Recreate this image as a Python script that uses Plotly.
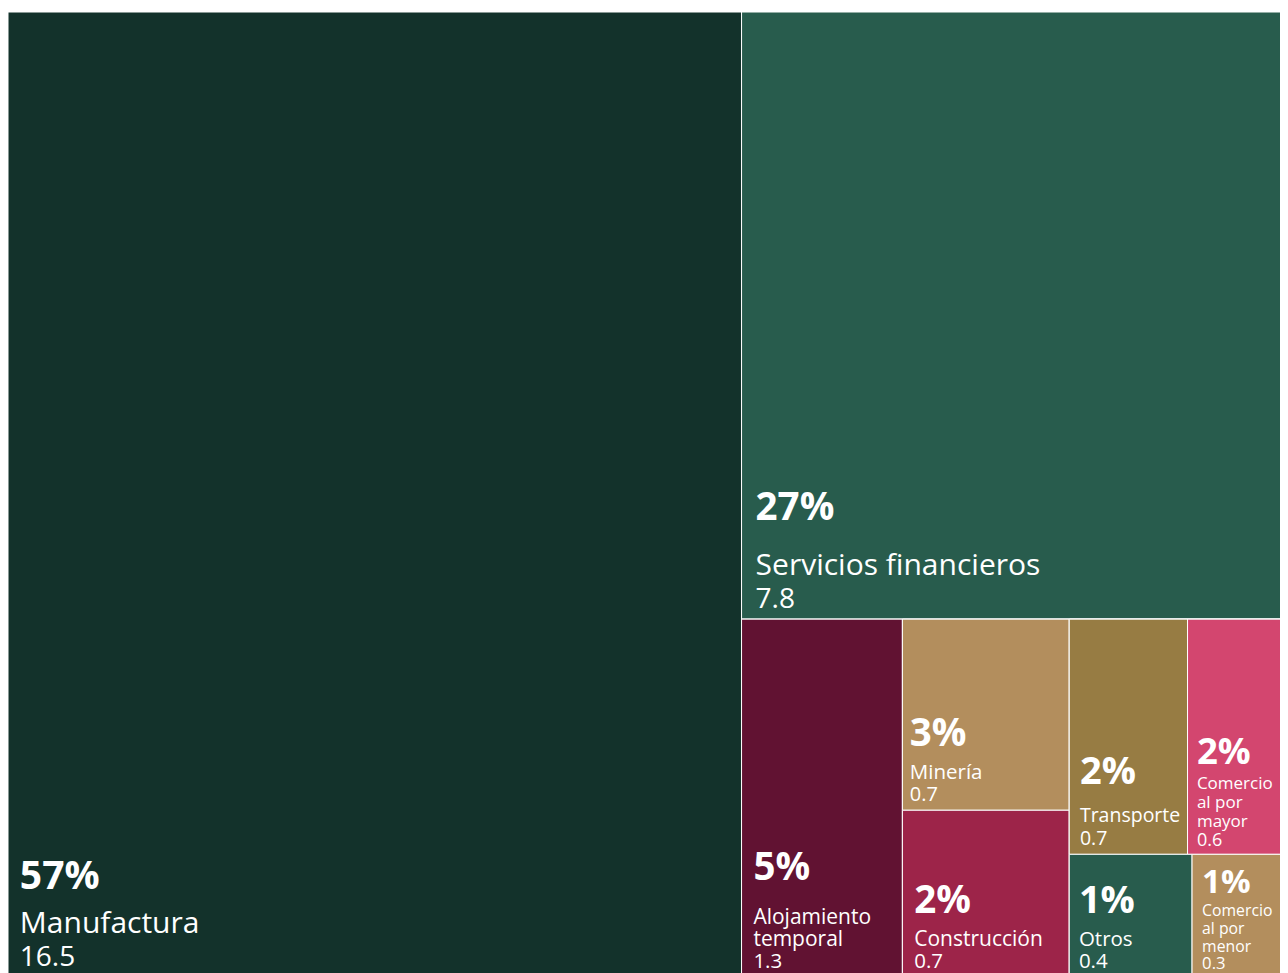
import plotly.graph_objects as go

# ---------------- data ----------------
sectors = ["Manufactura", "Servicios financieros", "Alojamiento temporal", "Minería",
           "Construcción", "Transporte", "Comercio al por mayor", "Otros",
           "Comercio al por menor"]
display_labels = ["Manufactura", "Servicios financieros", "Alojamiento<br>temporal", "Minería",
                  "Construcción", "Transporte", "Comercio<br>al por<br>mayor", "Otros",
                  "Comercio<br>al por<br>menor"]
values = [16.54, 7.752, 1.345, 0.745, 0.65, 0.65, 0.552, 0.352, 0.275]
colors = ["#13322B", "#285C4D", "#611232", "#B38E5D", "#9D2449",
          "#977C43", "#D3466F", "#285C4D", "#B38E5D"]

# layout grouping (invisible containers reproducing the tile arrangement)
group_ids = ["g_right", "g_bottom", "g_col2", "g_reg3", "g_row3a", "g_row3b"]
group_parents = ["", "g_right", "g_bottom", "g_bottom", "g_reg3", "g_reg3"]
sector_parent = ["", "g_right", "g_bottom", "g_col2", "g_col2",
                 "g_row3a", "g_row3a", "g_row3b", "g_row3b"]

# ---------------- text styling per tile ----------------
label_size = [30, 30, 21, 20.5, 21, 19.5, 17, 20.5, 17]
value_size = [28, 28, 20.5, 20, 20.5, 19.5, 18, 20.5, 18]
pct_size = [39, 38.5, 38.5, 38.5, 38.5, 38, 36.5, 38, 35.5]
base_size = [8.5, 8.5, 8.5, 8.5, 8.5, 5.9, 4.9, 8.5, 4.9]
gap_pct = [4, 5, 4, 3, 3, 5, 4, 3, 4]
gap_line = [3, 3, 2, 2, 2, 3, 3, 2, 3]
indent_px = [8, 10, 9, 4, 8, 7, 7, 6, 8]

NBSP = "\u00a0"


def make_template(i):
    n = max(1, round(indent_px[i] / (0.26 * base_size[i])))
    ind = NBSP * n
    pct = ind + "<span style='font-size:%spx'><b>%%{percentRoot:.0%%}</b></span>" % pct_size[i]
    lines = [ind + "<span style='font-size:%spx'>%s</span>" % (label_size[i], t)
             for t in display_labels[i].split("<br>")]
    lines.append(ind + "<span style='font-size:%spx'>%%{value:.1f}</span>" % value_size[i])
    return pct + "<br>" * gap_pct[i] + ("<br>" * gap_line[i]).join(lines)


# order nodes so siblings keep the wanted order
order = [("s", 0), ("g", 0), ("s", 1), ("g", 1), ("s", 2), ("g", 2), ("s", 3), ("s", 4),
         ("g", 3), ("g", 4), ("s", 5), ("s", 6), ("g", 5), ("s", 7), ("s", 8)]

ids, labels, parents, vals, cols, temps, fsizes = [], [], [], [], [], [], []
for kind, i in order:
    if kind == "s":
        ids.append(sectors[i])
        labels.append(sectors[i])
        parents.append(sector_parent[i])
        vals.append(values[i])
        cols.append(colors[i])
        temps.append(make_template(i))
        fsizes.append(base_size[i])
    else:
        ids.append(group_ids[i])
        labels.append(group_ids[i])
        parents.append(group_parents[i])
        vals.append(0)
        cols.append("#285C4D")
        temps.append("")
        fsizes.append(10)

fig = go.Figure(go.Treemap(
    ids=ids,
    labels=labels,
    parents=parents,
    values=vals,
    branchvalues="remainder",
    sort=False,
    tiling=dict(packing="slice-dice", pad=0),
    marker=dict(colors=cols, line=dict(color="#FFFFFF", width=1),
                pad=dict(t=0, l=0, r=0, b=0), depthfade=False),
    pathbar=dict(visible=False),
    texttemplate=temps,
    textposition="bottom left",
    textfont=dict(family="Open Sans", color="#FFFFFF", size=fsizes),
    hoverinfo="skip",
))

fig.update_layout(
    width=1280, height=969,
    margin=dict(l=0, r=0, t=4, b=0),
    paper_bgcolor="#FFFFFF",
    plot_bgcolor="#FFFFFF",
)

fig.write_html("out.html")
